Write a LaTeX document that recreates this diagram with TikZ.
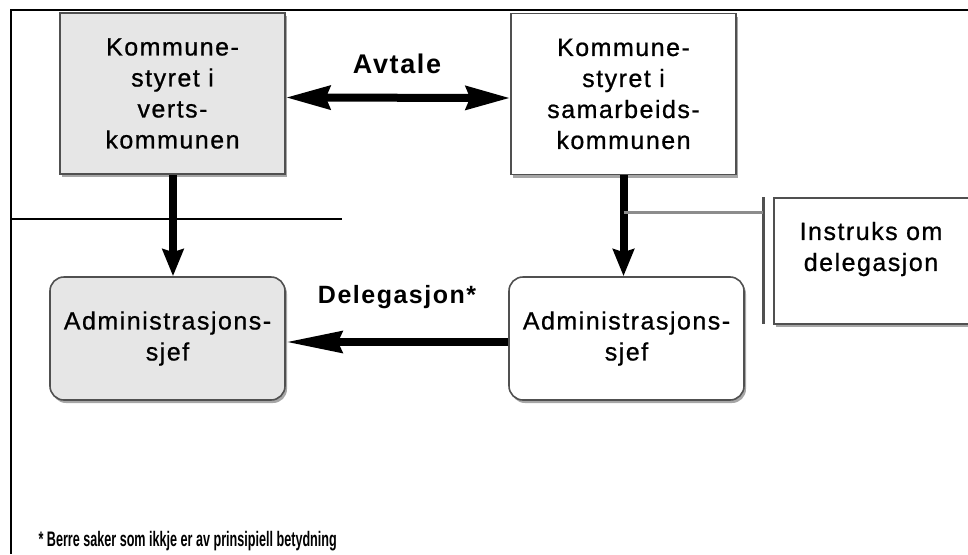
\documentclass[tikz,border=0pt]{standalone}
\usepackage{fontspec}
\setmainfont{Liberation Sans}[LetterSpace=6]
\newfontfamily\boxfont{Liberation Sans}[LetterSpace=6, FakeBold=0.8]
\newfontfamily\notefont{Liberation Sans}[FakeStretch=0.6]
\usetikzlibrary{arrows.meta,shadows}

\definecolor{boxgray}{HTML}{E6E6E6}
\definecolor{edgegray}{HTML}{505050}
\definecolor{linegray}{HTML}{8C8C8C}

\tikzset{
  sqbox/.style={draw=edgegray, line width=1.6pt, minimum width=225pt, minimum height=161pt,
    align=center, font=\fontsize{25}{31}\boxfont,
    drop shadow={shadow xshift=2pt, shadow yshift=-3pt, fill=black!35, opacity=1}},
  rdbox/.style={sqbox, rounded corners=14pt, minimum width=235pt, minimum height=123pt},
  downarrow/.style={line width=8pt, -{Stealth[length=27pt, width=21pt, inset=3pt]}},
  lbl/.style={font=\fontsize{25}{28}\selectfont\bfseries}
}

\begin{document}
\begin{tikzpicture}[x=1pt, y=-1pt]
  \useasboundingbox (0,0) rectangle (968,554);
  \clip (0,0) rectangle (968,554);
  % Outer frame
  \draw[line width=2pt] (968,10) -- (11,10) -- (11,554);
  % Divider line
  \draw[line width=2pt] (11,219) -- (342,219);

  % Municipal councils
  \node[sqbox, fill=boxgray] (vertsstyre) at (172.5,93.5) {Kommune-\\styret i\\verts-\\kommunen};
  \node[sqbox, fill=white] (samstyre) at (623.5,94) {Kommune-\\styret i\\samarbeids-\\kommunen};

  % Chief executives
  \node[rdbox, fill=boxgray] (vertsadm) at (167.5,338.5) {Administrasjons-\\sjef};
  \node[rdbox, fill=white] (samadm) at (626.5,338.5) {Administrasjons-\\sjef};

  % Instruction box (runs off the right edge)
  \node[sqbox, fill=white, minimum width=240pt, minimum height=126pt, anchor=north west] (instruksbox) at (773,197) {};
  \node[font=\fontsize{25}{31}\boxfont, align=center] (instruks) at (871,249) {Instruks om\\delegasjon};

  % Agreement
  \draw[line width=8pt, {Stealth[length=44pt, width=23pt, inset=4pt]}-{Stealth[length=44pt, width=23pt, inset=4pt]}]
    ([yshift=-4pt]vertsstyre.east) -- ([yshift=-4pt]samstyre.west);
  \node[lbl, font=\fontsize{27}{30}\selectfont\bfseries] (avtale) at (397,64) {Avtale};

  % Council to chief executive
  \draw[downarrow] ([xshift=0.5pt]vertsstyre.south) -- ([xshift=0.5pt]vertsstyre.south |- vertsadm.north);
  \draw[downarrow] (samstyre.south) -- (samstyre.south |- samadm.north);

  % Bracket and link to instruction
  \coordinate (brtop) at (763,197);
  \coordinate (brbot) at (763,324);
  \coordinate (brmid) at (763,212);
  \draw[edgegray, line width=3pt] (brtop) -- (brbot);
  \draw[linegray, line width=3pt] (samstyre.south |- brmid) -- (brmid);

  % Delegation
  \draw[line width=8pt, -{Stealth[length=56pt, width=21pt, inset=4pt]}]
    ([yshift=-3.5pt]samadm.west) -- ([yshift=-3.5pt]vertsadm.east);
  \node[lbl] (deleg) at (397,297) {Delegasjon*};

  % Footnote
  \node[anchor=west, font=\fontsize{21}{24}\selectfont\notefont\bfseries] (note) at (35,541)
    {* Berre saker som ikkje er av prinsipiell betydning};
\end{tikzpicture}
\end{document}
